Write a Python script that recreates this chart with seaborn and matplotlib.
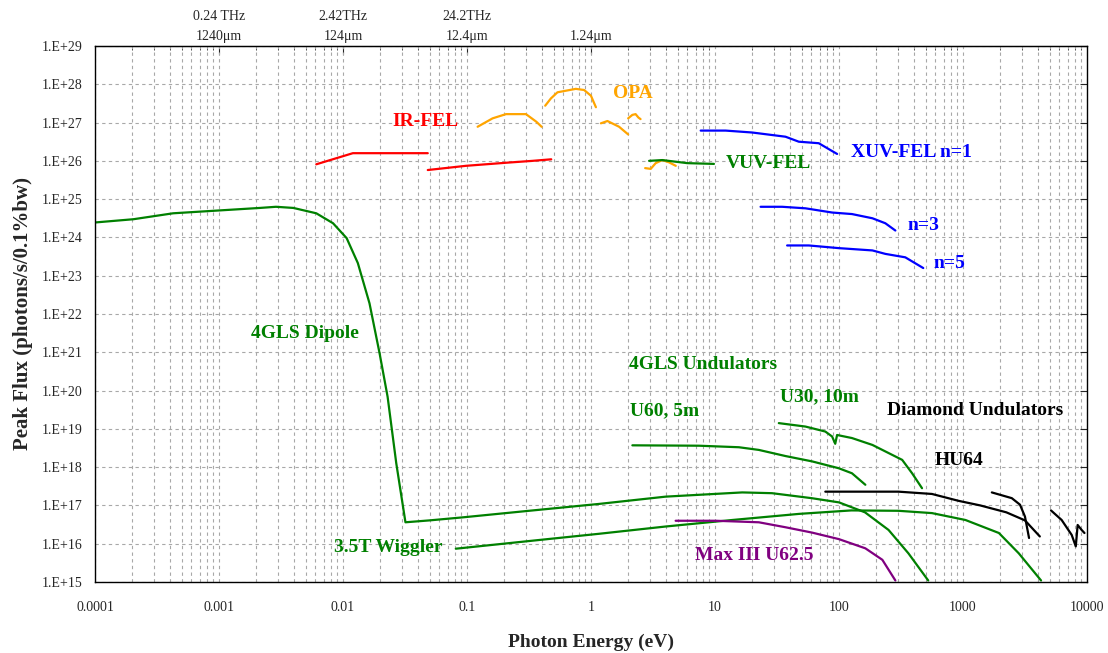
import numpy as np
import matplotlib
matplotlib.use("Agg")
import matplotlib.pyplot as plt
import matplotlib.ticker as mticker
import seaborn as sns

# values, stored as log10(energy in eV) and log10(peak flux)
dipole_logE = [-4.0, -3.69, -3.37, -3.02, -2.67, -2.54, -2.40, -2.215, -2.08, -1.97,
               -1.88, -1.786, -1.705, -1.64, -1.57, -1.496, -1.30, -1.03, -0.5, 0.066,
               0.603, 1.22, 1.46, 1.78, 2.0, 2.21, 2.40, 2.56, 2.72]
dipole_logF = [24.39, 24.475, 24.63, 24.70, 24.77, 24.80, 24.77, 24.63, 24.37, 23.98,
               23.33, 22.28, 20.98, 19.84, 18.10, 16.56, 16.61, 16.69, 16.86, 17.04,
               17.23, 17.34, 17.32, 17.19, 17.08, 16.82, 16.36, 15.75, 15.04]

wiggler_logE = [-1.09, -0.5, 0.066, 0.603, 1.14, 1.68, 2.10, 2.48, 2.75, 3.02, 3.29, 3.45, 3.63]
wiggler_logF = [15.87, 16.07, 16.26, 16.45, 16.62, 16.78, 16.87, 16.86, 16.80, 16.62, 16.28, 15.75, 15.04]

u60_logE = [0.334, 0.871, 1.193, 1.354, 1.569, 1.784, 2.0, 2.105, 2.213]
u60_logF = [18.57, 18.56, 18.52, 18.45, 18.29, 18.15, 17.97, 17.84, 17.54]

u30_logE = [1.515, 1.73, 1.89, 1.945, 1.97, 1.985, 2.105, 2.27, 2.43, 2.51, 2.59, 2.67]
u30_logF = [19.15, 19.06, 18.93, 18.80, 18.61, 18.84, 18.76, 18.58, 18.32, 18.19, 17.84, 17.45]

maxiii_logE = [0.683, 1.005, 1.354, 1.569, 1.784, 2.0, 2.213, 2.35, 2.455]
maxiii_logF = [16.60, 16.60, 16.56, 16.43, 16.29, 16.12, 15.88, 15.58, 15.04]

hu64a_logE = [1.89, 2.48, 2.75, 2.965, 3.14, 3.35, 3.50, 3.62]
hu64a_logF = [17.36, 17.36, 17.30, 17.12, 17.00, 16.82, 16.61, 16.19]
hu64b_logE = [3.233, 3.394, 3.46, 3.50, 3.533]
hu64b_logF = [17.34, 17.19, 17.02, 16.71, 16.15]
hu64c_logE = [3.71, 3.796, 3.877, 3.91, 3.925, 3.957, 3.98]
hu64c_logF = [16.87, 16.62, 16.23, 15.93, 16.49, 16.36, 16.28]

xuv1_logE = [0.885, 1.086, 1.30, 1.569, 1.676, 1.837, 1.985]
xuv1_logF = [26.79, 26.79, 26.74, 26.63, 26.50, 26.46, 26.18]
xuv3_logE = [1.368, 1.542, 1.73, 1.945, 2.105, 2.27, 2.374, 2.455]
xuv3_logF = [24.80, 24.80, 24.76, 24.65, 24.61, 24.50, 24.37, 24.18]
xuv5_logE = [1.582, 1.757, 2.0, 2.27, 2.374, 2.535, 2.68]
xuv5_logF = [23.79, 23.79, 23.72, 23.66, 23.57, 23.48, 23.20]

vuv_logE = [0.469, 0.576, 0.776, 0.992]
vuv_logF = [26.0, 26.02, 25.94, 25.92]

irfel1_logE = [-2.215, -1.92, -1.316]
irfel1_logF = [25.91, 26.20, 26.20]
irfel2_logE = [-1.316, -1.008, -0.685, -0.47, -0.32]
irfel2_logF = [25.76, 25.87, 25.95, 26.0, 26.04]

opa1_logE = [-0.914, -0.793, -0.685, -0.524, -0.44, -0.398]
opa1_logF = [26.89, 27.11, 27.22, 27.22, 27.02, 26.89]
opa2_logE = [-0.369, -0.323, -0.27, -0.122, -0.055, 0.0, 0.04]
opa2_logF = [27.44, 27.63, 27.79, 27.88, 27.85, 27.70, 27.40]
opa3_logE = [0.08, 0.133, 0.227, 0.30]
opa3_logF = [26.98, 27.04, 26.89, 26.69]
opa4_logE = [0.30, 0.334, 0.36, 0.383, 0.40]
opa4_logF = [27.11, 27.20, 27.22, 27.13, 27.09]
opa5_logE = [0.437, 0.482, 0.522, 0.576, 0.63, 0.684]
opa5_logF = [25.81, 25.79, 25.94, 26.02, 25.96, 25.87]

x_ticks = [1e-4, 1e-3, 1e-2, 1e-1, 1, 10, 100, 1000, 10000]
x_ticklabels = ["0.0001", "0.001", "0.01", "0.1", "1", "10", "100", "1000", "10000"]
y_ticks = [10.0 ** p for p in range(15, 30)]
y_ticklabels = ["1.E+%d" % p for p in range(15, 30)]
top_ticks = [1e-3, 1e-2, 1e-1, 1]
top_ticklabels = ["0.24 THz\n1240\u03bcm", "2.42THz\n124\u03bcm", "24.2THz\n12.4\u03bcm", "\n1.24\u03bcm"]

GREEN = "#008000"
RED = "#ff0000"
ORANGE = "#ffa500"
BLUE = "#0000ff"
PURPLE = "#800080"

sns.set_style("ticks")
plt.rcParams["font.family"] = ["Liberation Serif", "DejaVu Serif"]

fig = plt.figure(figsize=(11.08, 6.53), dpi=100)
ax = fig.add_axes([0.0857, 0.1087, 0.8953, 0.8209])

series = [
    (opa5_logE, opa5_logF, ORANGE),
    (dipole_logE, dipole_logF, GREEN),
    (wiggler_logE, wiggler_logF, GREEN),
    (u60_logE, u60_logF, GREEN),
    (u30_logE, u30_logF, GREEN),
    (maxiii_logE, maxiii_logF, PURPLE),
    (hu64a_logE, hu64a_logF, "black"),
    (hu64b_logE, hu64b_logF, "black"),
    (hu64c_logE, hu64c_logF, "black"),
    (xuv1_logE, xuv1_logF, BLUE),
    (xuv3_logE, xuv3_logF, BLUE),
    (xuv5_logE, xuv5_logF, BLUE),
    (vuv_logE, vuv_logF, GREEN),
    (irfel1_logE, irfel1_logF, RED),
    (irfel2_logE, irfel2_logF, RED),
    (opa1_logE, opa1_logF, ORANGE),
    (opa2_logE, opa2_logF, ORANGE),
    (opa3_logE, opa3_logF, ORANGE),
    (opa4_logE, opa4_logF, ORANGE),
]
for logE, logF, col in series:
    sns.lineplot(x=np.power(10.0, logE), y=np.power(10.0, logF), color=col,
                 linewidth=1.6, estimator=None, sort=False, ax=ax)

ax.set_xscale("log")
ax.set_yscale("log")
ax.set_xlim(1e-4, 1e4)
ax.set_ylim(1e15, 1e29)

ax.xaxis.set_major_locator(mticker.FixedLocator(x_ticks))
ax.xaxis.set_major_formatter(mticker.FixedFormatter(x_ticklabels))
ax.xaxis.set_minor_locator(mticker.LogLocator(base=10, subs=np.arange(2, 10)))
ax.xaxis.set_minor_formatter(mticker.NullFormatter())
ax.yaxis.set_major_locator(mticker.FixedLocator(y_ticks))
ax.yaxis.set_major_formatter(mticker.FixedFormatter(y_ticklabels))
ax.yaxis.set_minor_locator(mticker.NullLocator())

grid_kw = dict(color="#a8a8a8", linestyle=(0, (3, 3)), linewidth=0.8)
ax.grid(True, which="major", axis="both", **grid_kw)
ax.grid(True, which="minor", axis="x", **grid_kw)
ax.set_axisbelow(True)

ax.tick_params(axis="x", which="major", direction="in", length=0, pad=14, labelsize=10)
ax.tick_params(axis="x", which="minor", length=0)
ax.tick_params(axis="y", which="major", direction="in", length=5, pad=9, labelsize=10,
               left=False, right=True)
for s in ax.spines.values():
    s.set_color("black")
    s.set_linewidth(1.0)

top = ax.secondary_xaxis("top")
top.xaxis.set_major_locator(mticker.FixedLocator(top_ticks))
top.xaxis.set_major_formatter(mticker.FixedFormatter(top_ticklabels))
top.xaxis.set_minor_locator(mticker.LogLocator(base=10, subs=np.arange(2, 10)))
top.xaxis.set_minor_formatter(mticker.NullFormatter())
top.tick_params(which="major", direction="in", length=6, pad=2, labelsize=10)
top.tick_params(which="minor", direction="in", length=3)
for lab in top.get_xticklabels():
    lab.set_linespacing(1.75)

ax.set_xlabel("Photon Energy (eV)", fontsize=14, fontweight="bold", labelpad=14)
ax.set_ylabel("Peak Flux (photons/s/0.1%bw)", fontsize=15, fontweight="bold", labelpad=6)

labels = [
    ("IR-FEL", -1.60, 27.02, RED),
    ("OPA", 0.18, 27.77, ORANGE),
    ("XUV-FEL n=1", 2.10, 26.23, BLUE),
    ("n=3", 2.556, 24.30, BLUE),
    ("n=5", 2.766, 23.31, BLUE),
    ("VUV-FEL", 1.09, 25.92, GREEN),
    ("4GLS Dipole", -2.742, 21.48, GREEN),
    ("4GLS Undulators", 0.306, 20.67, GREEN),
    ("U60, 5m", 0.314, 19.47, GREEN),
    ("U30, 10m", 1.524, 19.84, GREEN),
    ("Diamond Undulators", 2.387, 19.47, "black"),
    ("HU64", 2.774, 18.17, "black"),
    ("3.5T Wiggler", -2.073, 15.89, GREEN),
    ("Max III U62.5", 0.839, 15.69, PURPLE),
]
for txt, lx, ly, col in labels:
    ax.text(10.0 ** lx, 10.0 ** ly, txt, color=col, fontsize=14, fontweight="bold",
            ha="left", va="center")

fig.savefig("out.png", dpi=100)
